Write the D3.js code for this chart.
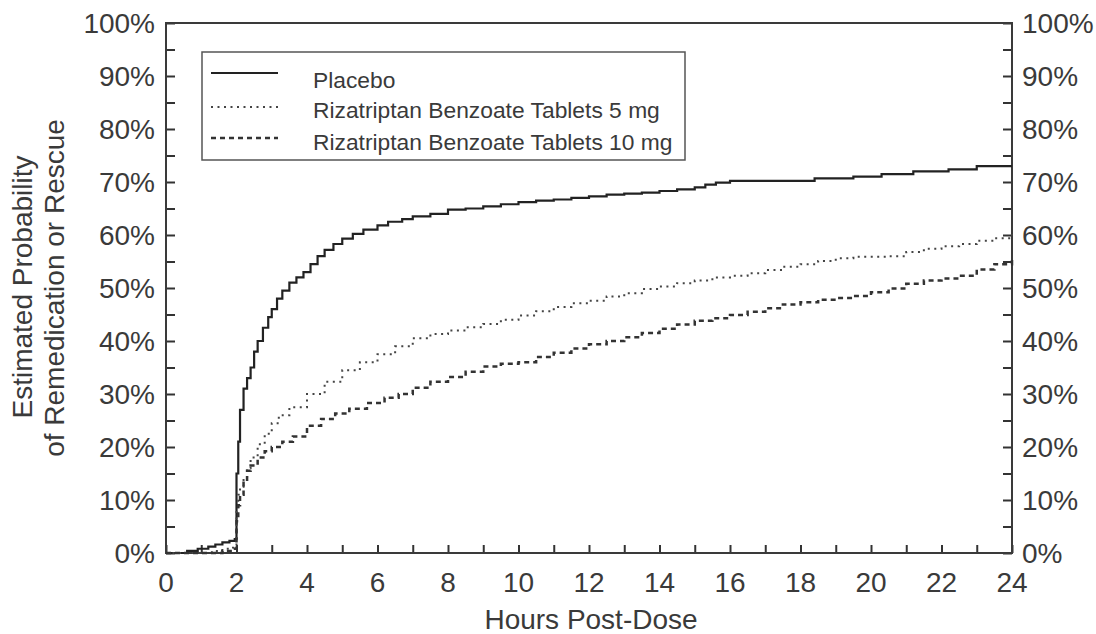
<!DOCTYPE html>
<html>
<head>
<meta charset="utf-8">
<script src="https://cdn.jsdelivr.net/npm/d3@7"></script>
<style>
  body { margin: 0; background: #fff; }
  text { font-family: "Liberation Sans", Arial, sans-serif; fill: #3a3a3a; }
</style>
</head>
<body>
<div id="chart"></div>
<script>
// hours post-dose / estimated probability (%)
var placebo = [
    [0, 0], [0.4, 0], [0.6, 0.4], [0.9, 0.8], [1.2, 1.2], [1.4, 1.6], [1.6, 2.0], [1.8, 2.3], [1.95, 2.6],
    [2.0, 15], [2.05, 21], [2.1, 27], [2.2, 31], [2.3, 33], [2.4, 35], [2.5, 38], [2.6, 40],
    [2.75, 42.5], [2.9, 44.5], [3.0, 46], [3.15, 48], [3.3, 49.5], [3.5, 51], [3.7, 52], [3.9, 53],
    [4.1, 54.5], [4.3, 56], [4.5, 57.2], [4.75, 58.3], [5.0, 59.3], [5.3, 60.2], [5.6, 61], [6.0, 61.8],
    [6.3, 62.5], [6.7, 63], [7.0, 63.5], [7.5, 64], [8.0, 64.8], [8.5, 65], [9.0, 65.4], [9.5, 65.8],
    [10, 66.2], [10.5, 66.5], [11, 66.7], [11.5, 67], [12, 67.3], [12.5, 67.6], [13, 67.8], [13.5, 68],
    [14, 68.3], [14.5, 68.6], [15, 69], [15.3, 69.5], [15.6, 69.9], [16, 70.2], [18.4, 70.7], [19.5, 71],
    [20.3, 71.5], [21.2, 72], [22.2, 72.4], [23, 73], [24, 73]
];

var riza5 = [
    [0, 0], [0.9, 0], [1.3, 0.4], [1.6, 0.8], [1.9, 1.0],
    [2.0, 8], [2.05, 11], [2.1, 12.5], [2.2, 14], [2.3, 16], [2.4, 18], [2.6, 20.5], [2.8, 22.5],
    [3.0, 24.5], [3.2, 26], [3.5, 27.5], [4.0, 30], [4.5, 32.3], [5.0, 34.5], [5.5, 36], [6.0, 37.5],
    [6.5, 39], [7.0, 40.5], [7.5, 41.3], [8.0, 42], [8.5, 42.6], [9.0, 43.2], [9.5, 44], [10, 44.8],
    [10.5, 45.6], [11, 46.4], [11.5, 47.1], [12, 47.6], [12.5, 48.4], [13, 49], [13.5, 49.8], [14, 50.3],
    [14.5, 50.9], [15, 51.4], [15.5, 52], [16, 52.3], [16.5, 52.8], [17, 53.4], [17.5, 54], [18, 54.5],
    [18.5, 55.1], [19, 55.6], [19.5, 55.9], [20.5, 56], [21, 56.8], [21.5, 57.4], [22, 57.9],
    [22.5, 58.3], [23, 58.9], [23.5, 59.4], [24, 60.2]
];

var riza10 = [
    [0, 0], [1.3, 0], [1.6, 0.4], [1.9, 0.8],
    [2.0, 6], [2.05, 9], [2.1, 11], [2.2, 13.5], [2.3, 15.5], [2.4, 16.5], [2.6, 18], [2.8, 19.2],
    [3.0, 20], [3.3, 21], [3.6, 22], [4.0, 24], [4.4, 25.3], [4.8, 26.3], [5.2, 27.2], [5.7, 28.3],
    [6.2, 29.3], [6.6, 30], [7.0, 31.2], [7.5, 32.3], [8.0, 33.2], [8.5, 34.2], [9.0, 35.2], [9.5, 35.7],
    [10, 36], [10.5, 37], [11, 37.8], [11.5, 38.6], [12, 39.4], [12.5, 40], [13, 40.7], [13.5, 41.5],
    [14, 42.3], [14.5, 43.1], [15, 43.8], [15.5, 44.3], [16, 44.9], [16.5, 45.5], [17, 46.2], [17.5, 46.9],
    [18, 47.3], [18.5, 47.8], [19, 48.1], [19.5, 48.5], [20, 49.2], [20.5, 49.9], [21, 50.8], [21.5, 51.4],
    [22, 51.8], [22.5, 52.3], [23, 53.5], [23.5, 54.5], [24, 55.3]
];

var seriesNames = ["Placebo", "Rizatriptan Benzoate Tablets 5 mg", "Rizatriptan Benzoate Tablets 10 mg"];
var xTicks = [0, 2, 4, 6, 8, 10, 12, 14, 16, 18, 20, 22, 24];
var yTicks = [0, 10, 20, 30, 40, 50, 60, 70, 80, 90, 100];

var svg = d3.select("#chart").append("svg")
    .attr("width", 1096)
    .attr("height", 634);

var x = d3.scaleLinear().domain([0, 24]).range([166, 1012]);
var y = d3.scaleLinear().domain([0, 100]).range([553, 23]);

// inward ticks
svg.append("g")
    .attr("transform", "translate(166,0)")
    .call(d3.axisRight(y).tickValues(d3.range(0, 101, 5)).tickSize(9).tickFormat(""));
svg.append("g")
    .attr("transform", "translate(1012,0)")
    .call(d3.axisLeft(y).tickValues(d3.range(0, 101, 5)).tickSize(9).tickFormat(""));
svg.append("g")
    .attr("transform", "translate(0,553)")
    .call(d3.axisTop(x).tickValues(d3.range(0, 25, 1)).tickSize(8).tickFormat(""));

svg.selectAll(".domain").remove();
svg.selectAll(".tick line").attr("stroke", "#333").attr("stroke-width", 2);

svg.append("rect")
    .attr("x", 166).attr("y", 23)
    .attr("width", 1012 - 166).attr("height", 553 - 23)
    .attr("fill", "none")
    .attr("stroke", "#3a3a3a")
    .attr("stroke-width", 2);

// tick labels
svg.selectAll(".ylabL").data(yTicks).enter().append("text")
    .attr("x", 155).attr("y", d => y(d))
    .attr("dy", "0.36em")
    .attr("text-anchor", "end")
    .attr("font-size", 28)
    .text(d => d + "%");

svg.selectAll(".ylabR").data(yTicks).enter().append("text")
    .attr("x", 1022).attr("y", d => y(d))
    .attr("dy", "0.36em")
    .attr("font-size", 28)
    .text(d => d + "%");

svg.selectAll(".xlab").data(xTicks).enter().append("text")
    .attr("x", d => x(d)).attr("y", 592)
    .attr("text-anchor", "middle")
    .attr("font-size", 28)
    .text(d => d);

svg.append("text")
    .attr("x", 591).attr("y", 629)
    .attr("text-anchor", "middle")
    .attr("font-size", 28)
    .text("Hours Post-Dose");

svg.append("text")
    .attr("transform", "translate(32,287) rotate(-90)")
    .attr("text-anchor", "middle")
    .attr("font-size", 28)
    .text("Estimated Probability");
svg.append("text")
    .attr("transform", "translate(64,288) rotate(-90)")
    .attr("text-anchor", "middle")
    .attr("font-size", 28)
    .text("of Remedication or Rescue");

// curves
var line = d3.line()
    .x(d => x(d[0]))
    .y(d => y(d[1]))
    .curve(d3.curveStepAfter);

var styles = [
    { data: placebo, color: "#222", width: 2.2, dash: null },
    { data: riza5, color: "#444", width: 2, dash: "2,4.5" },
    { data: riza10, color: "#333", width: 2.5, dash: "5,4" }
];

svg.selectAll(".curve").data(styles).enter().append("path")
    .attr("class", "curve")
    .attr("d", d => line(d.data))
    .attr("fill", "none")
    .attr("stroke", d => d.color)
    .attr("stroke-width", d => d.width)
    .attr("stroke-dasharray", d => d.dash);

// legend
var legend = svg.append("g");
legend.append("rect")
    .attr("x", 202).attr("y", 52)
    .attr("width", 685 - 202).attr("height", 160 - 52)
    .attr("fill", "#fff")
    .attr("stroke", "#555")
    .attr("stroke-width", 1.5);

var rowLine = [73, 107, 138];
var rowText = [88, 118, 150];

legend.selectAll(".lgline").data(styles).enter().append("line")
    .attr("x1", 211).attr("x2", 278)
    .attr("y1", (d, i) => rowLine[i]).attr("y2", (d, i) => rowLine[i])
    .attr("stroke", d => d.color)
    .attr("stroke-width", d => d.width)
    .attr("stroke-dasharray", d => d.dash);

legend.selectAll(".lgtext").data(seriesNames).enter().append("text")
    .attr("x", 313).attr("y", (d, i) => rowText[i])
    .attr("font-size", 22.8)
    .text(d => d);
</script>
</body>
</html>
